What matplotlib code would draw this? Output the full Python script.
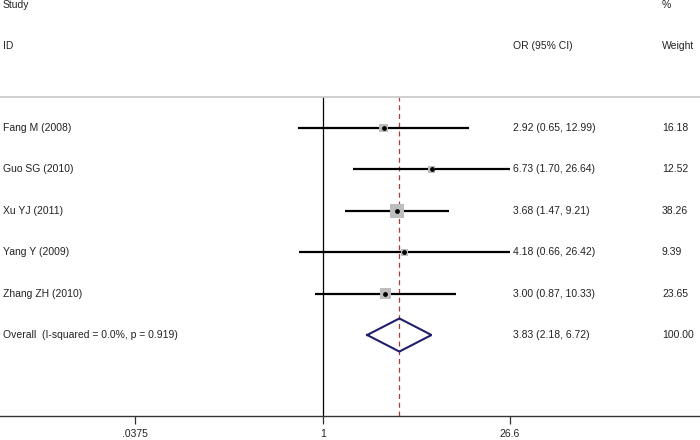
import numpy as np
import matplotlib
matplotlib.use('Agg')
import matplotlib.pyplot as plt
import matplotlib.transforms as mtransforms

plt.rcParams['font.family'] = ['Liberation Sans', 'DejaVu Sans']

# Study data (odds ratios with 95% CI and weights)
studies = ["Fang M (2008)", "Guo SG (2010)", "Xu YJ (2011)", "Yang Y (2009)", "Zhang ZH (2010)"]
or_est = [2.92, 6.73, 3.68, 4.18, 3.00]
ci_low = [0.65, 1.70, 1.47, 0.66, 0.87]
ci_high = [12.99, 26.64, 9.21, 26.42, 10.33]
weights = [16.18, 12.52, 38.26, 9.39, 23.65]

overall_label = "Overall  (I-squared = 0.0%, p = 0.919)"
overall_or = 3.83
overall_low = 2.18
overall_high = 6.72
overall_weight = 100.00

tick_vals = [0.0375, 1, 26.6]
tick_labels = [".0375", "1", "26.6"]

W, H = 700, 440
fig = plt.figure(figsize=(7, 4.4), dpi=100)

# plot area spans whole width, from the grey header line down to the axis line
top_px, bot_px = 97, 416
ax = fig.add_axes([0, (H - bot_px) / H, 1, (bot_px - top_px) / H])

px_per_ln = 57.1
x_one = 322.7
ax.set_xscale('log')
ax.set_xlim(np.exp(-x_one / px_per_ln), np.exp((W - x_one) / px_per_ln))

row0, row_step = 128, 41.4
ax.set_ylim((bot_px - row0) / row_step, (top_px - row0) / row_step)

for side in ['left', 'right']:
    ax.spines[side].set_visible(False)
ax.spines['top'].set_color('#c8c8c8')
ax.spines['top'].set_linewidth(1.2)
ax.spines['bottom'].set_color('#333333')
ax.spines['bottom'].set_linewidth(1.0)

ax.set_yticks([])
ax.set_xticks(tick_vals)
ax.set_xticklabels(tick_labels, fontsize=7.5, color='#222222')
ax.xaxis.set_minor_locator(matplotlib.ticker.NullLocator())
ax.tick_params(axis='x', length=6, width=0.9, color='#333333', pad=3)

# reference lines
ax.axvline(1, color='black', lw=0.9, zorder=1)
ax.axvline(overall_or, color='#a83c3c', lw=0.9, ls=(0, (4, 3)), zorder=1)

rows = np.arange(len(studies))
ax.hlines(rows, ci_low, ci_high, color='black', lw=1.6, zorder=2)
sides_pt = 2.2 * np.sqrt(weights) * 0.72
ax.scatter(or_est, rows, marker='s', s=sides_pt ** 2, color='#bdbdbd',
           edgecolor='none', zorder=3)
ax.scatter(or_est, rows, marker='o', s=6, color='black', zorder=4)

# pooled diamond
yo = len(studies)
half_h = 0.4
ax.plot([overall_low, overall_or, overall_high, overall_or, overall_low],
        [yo, yo - half_h, yo, yo + half_h, yo],
        color='#1f1f6b', lw=1.5, zorder=3, solid_joinstyle='miter')

# text columns
trans = mtransforms.blended_transform_factory(ax.transAxes, ax.transData)
fs = 7.5
tc = '#222222'
for i, name in enumerate(studies):
    ax.text(3 / W, i, name, transform=trans, fontsize=fs, color=tc, va='center', clip_on=False)
    ax.text(513 / W, i, f"{or_est[i]:.2f} ({ci_low[i]:.2f}, {ci_high[i]:.2f})",
            transform=trans, fontsize=fs, color=tc, va='center', clip_on=False)
    ax.text(662 / W, i, f"{weights[i]:.2f}", transform=trans, fontsize=fs,
            color=tc, va='center', clip_on=False)
ax.text(3 / W, yo, overall_label, transform=trans, fontsize=fs, color=tc, va='center', clip_on=False)
ax.text(513 / W, yo, f"{overall_or:.2f} ({overall_low:.2f}, {overall_high:.2f})",
        transform=trans, fontsize=fs, color=tc, va='center', clip_on=False)
ax.text(662 / W, yo, f"{overall_weight:.2f}", transform=trans, fontsize=fs,
        color=tc, va='center', clip_on=False)

# headers
fig.text(3 / W, 1 - 5 / H, "Study", fontsize=fs, color=tc, va='center')
fig.text(3 / W, 1 - 46 / H, "ID", fontsize=fs, color=tc, va='center')
fig.text(513 / W, 1 - 46 / H, "OR (95% CI)", fontsize=fs, color=tc, va='center')
fig.text(662 / W, 1 - 5 / H, "%", fontsize=fs, color=tc, va='center')
fig.text(662 / W, 1 - 46 / H, "Weight", fontsize=fs, color=tc, va='center')

fig.savefig("out.png", dpi=100)
